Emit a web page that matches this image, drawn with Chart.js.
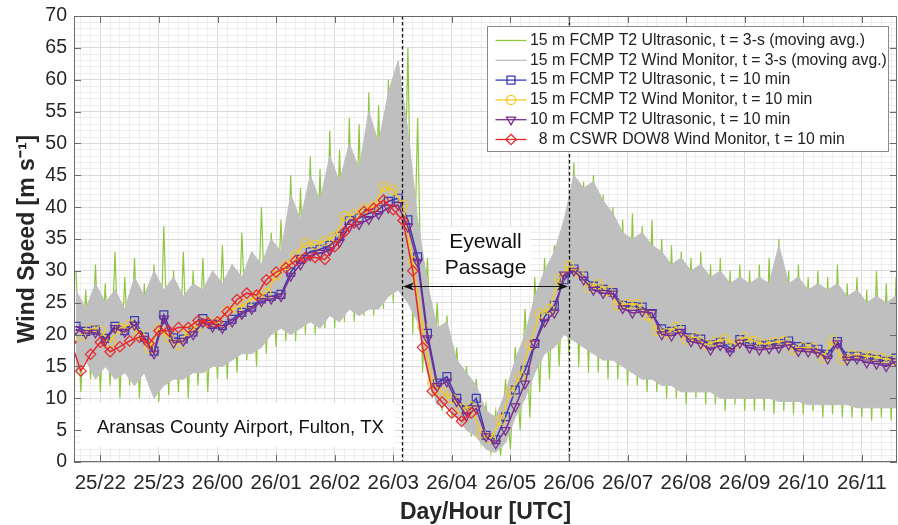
<!doctype html>
<html>

<head>
  <meta charset="utf-8">
  <title>Wind Speed - Aransas County Airport</title>
  <style>
    html, body { margin: 0; padding: 0; background: #fff; }
    .chartBox { width: 898px; height: 525px; }
  </style>
</head>

<body>
  <div class="chartBox">
    <canvas id="myChart" width="898" height="525"></canvas>
  </div>

  <script src="https://cdn.jsdelivr.net/npm/chart.js"></script>
  <script>
    // x values are hours counted from 25/00 UTC
    const xMin = 21.55;
    const xMax = 35.6;
    const eyewallStart = 27.15;   // 26/03:09
    const eyewallEnd = 30.0;      // 26/06:00
    const arrowLevel = 27.6;
    const labelLevel = 32.5;

    // first time stamp of each 10-min series
    const startUltra = 21 + 35 / 60;   // 25/21:35
    const startMonitor = 21 + 40 / 60; // 25/21:40
    const startDow8 = 21 + 30 / 60;    // 25/21:30

    // 3-s moving average, envelope of the trace per 10 min
    const greenHi = [30, 27, 31, 28, 33, 29, 32, 28, 31, 37, 30, 33, 30, 32, 29, 34, 31, 36, 33, 40, 36, 38,
      45, 43, 48, 46, 52, 49, 54, 53, 58, 56, 60, 61, 65,
      54, 32, 25, 23, 18, 15, 13, 9, 8, 13, 18, 24, 29, 32, 34, 36,
      47, 44, 45, 42, 40, 38, 39, 37, 38, 35, 34, 33, 32, 33, 31, 32, 30, 31, 30, 31,
      32, 35, 30, 31, 29, 30, 29, 31, 28, 29, 27, 30, 28, 29];
    const greenLo = [11, 13, 11, 12, 10, 12, 10, 12, 9.5, 10.5, 11, 10, 12, 11, 13, 13, 14, 16, 15, 17, 18, 19,
      19, 20, 20, 21, 21, 22, 22, 23, 23, 24, 25, 26, 20,
      14, 10, 8, 7, 6, 4, 3, 1.5, 1, 2, 5, 7, 11, 13, 15, 17,
      15, 14, 14, 13, 13, 12, 12, 11, 11, 10, 10, 9, 10, 9, 9, 8, 9, 8, 8, 8,
      7.5, 8, 7.5, 7.5, 8, 7, 7.5, 7, 7, 7, 6.5, 7, 6.5, 6.5];
    const grayHi = [27, 24, 28, 25, 27, 24, 29, 26, 30, 27, 29, 26, 28, 27, 30, 28, 31, 29, 33, 31,
      35, 33, 42, 38, 45, 41, 48, 44, 50, 46, 55, 50, 58, 63, 52, 38, 28, 21, 22, 16,
      14, 12, 8, 7, 11, 16, 20, 26, 30, 33, 38,
      45, 43, 44, 41, 39, 36, 35, 36, 34, 33, 31, 32, 30, 31, 29, 30, 28, 29, 28,
      29, 28, 34, 28, 29, 27, 28, 27, 28, 26, 27, 25, 26, 25, 26];
    const grayLo = [14, 16, 13, 15, 13, 14, 12, 14, 10, 12, 13, 13, 14, 14, 15, 15, 16, 17, 17, 18,
      20, 21, 20, 21, 22, 21, 23, 22, 24, 23, 24, 24, 26, 27, 25, 22, 14, 9, 9, 7,
      5, 4, 2, 1.5, 3, 7, 10, 14, 17, 18, 20,
      19, 18, 17, 16, 16, 15, 14, 13, 13, 12, 12, 11, 11, 11, 11, 10, 10, 10, 10, 10,
      10, 9.5, 9.5, 9.5, 9, 9, 9, 9, 9, 8.5, 8.5, 8.5, 8.5, 8.5];

    // 10-min means
    const ultra15 = [21.3, 20.5, 20.7, 19.4, 21.3, 20.6, 22.2, 19.6, 17.4, 23.1,
      19.5, 19.3, 20.4, 22.5, 21.6, 21.4, 22.4, 23.5, 24.3, 25.6,
      26.0, 26.3, 29.8, 31.8, 33.0, 33.4, 34.0, 35.4, 37.9, 38.3,
      39.0, 39.6, 40.9, 41.4, 38.0, 32.2, 20.2, 12.4, 13.4, 10.0,
      8.2, 10.0, 4.2, 3.5, 7.1, 11.3, 14.4, 18.6, 22.8, 24.6,
      28.6, 30.3, 29.2, 27.6, 27.1, 26.6, 24.6, 24.4, 24.3, 23.3,
      20.9, 20.5, 20.8, 19.5, 19.3, 18.4, 18.8, 17.9, 19.2, 18.6,
      18.3, 18.4, 18.6, 19.0, 18.1, 18.0, 17.7, 16.9, 18.9, 16.6,
      16.6, 16.3, 16.1, 15.8, 16.3];
    const monitor15 = [19.9, 20.9, 20.6, 18.8, 21.0, 21.6, 20.1, 17.8, 20.9, 19.5,
      18.4, 20.6, 21.3, 22.0, 21.8, 23.7, 24.2, 25.0, 26.1, 26.5,
      29.3, 30.9, 32.5, 34.4, 34.1, 34.7, 35.4, 38.6, 38.9, 39.8,
      40.1, 43.2, 42.7, 40.3, 31.5, 21.2, 12.4, 11.0, 10.0, 8.4,
      8.7, 4.5, 3.7, 6.6, 11.0, 13.4, 18.4, 23.3, 24.0, 28.8,
      30.8, 29.6, 27.4, 27.9, 26.8, 24.6, 24.8, 24.8, 23.0, 20.6,
      20.2, 21.2, 19.2, 19.6, 18.4, 18.9, 19.3, 18.5, 19.6, 19.0,
      18.5, 18.8, 19.0, 17.6, 18.0, 17.9, 16.3, 19.1, 16.1, 16.8,
      16.7, 16.6, 16.3, 16.0];
    const ultra10 = [20.8, 20.2, 20.3, 19.1, 21.0, 20.4, 21.5, 19.3, 17.0, 22.5,
      18.7, 19.0, 20.0, 21.9, 21.2, 21.0, 22.0, 23.2, 24.0, 25.2,
      25.6, 26.0, 29.2, 31.0, 32.4, 32.8, 33.2, 34.5, 36.9, 37.3,
      38.1, 38.9, 39.9, 40.3, 36.9, 31.4, 19.4, 11.9, 12.6, 9.5,
      7.3, 8.4, 4.0, 2.9, 5.0, 8.7, 12.3, 18.6, 22.0, 23.4,
      29.4, 30.0, 28.6, 27.0, 26.5, 26.4, 24.1, 23.4, 23.6, 23.4,
      20.0, 19.8, 20.4, 18.9, 18.6, 17.6, 18.3, 17.4, 18.7, 17.9,
      17.6, 17.8, 17.9, 18.4, 17.4, 17.3, 17.2, 16.2, 18.6, 16.0,
      16.2, 15.6, 15.4, 15.0, 15.8];
    const dow8 = [18.8, 14.3, 16.9, 18.8, 17.3, 18.1, 19.0, 19.6, 18.6, 20.6, 20.6,
      21.1, 21.1, 22.2, 21.9, 22.0, 23.6, 25.5, 26.5, 26.2, 28.6,
      29.8, 30.5, 31.6, 32.1, 32.1, 31.8, 33.8, 36.1, 37.5, 39.3,
      39.8, 41.1, 39.6, 37.9, 30.0, 18.0, 11.1, 9.4, 7.7, 6.4, 7.7];

    const toPoints = (start, vals) => vals.map((v, i) => ({ x: start + i / 6, y: v }));
    const toTrace = (start, hi, lo) => hi.flatMap((v, i) => [
      { x: start + i / 6, y: v },
      { x: start + i / 6 + 1 / 12, y: lo[i] }
    ]);

    const isHour = (v) => Math.round(v * 6) % 6 === 0;
    const hourLabel = (v) => {
      const h = Math.round(v);
      return (h < 24 ? '25/' : '26/') + String(h % 24).padStart(2, '0');
    };

    const green = '#8dc73f';
    const gray = '#bfbfbf';
    const blue = '#3a3ab2';
    const yellow = '#f2cb22';
    const purple = '#7b2d8e';
    const red = '#e8272b';
    const hollow = 'rgba(0,0,0,0)';

    function marker(ctx, style, x, y, r) {
      ctx.beginPath();
      if (style === 'rect') {
        const s = r * Math.SQRT1_2;
        ctx.rect(x - s, y - s, 2 * s, 2 * s);
      } else if (style === 'circle') {
        ctx.arc(x, y, r, 0, Math.PI * 2);
      } else if (style === 'triangle') {
        ctx.moveTo(x, y + r);
        ctx.lineTo(x - r * 0.866, y - r / 2);
        ctx.lineTo(x + r * 0.866, y - r / 2);
        ctx.closePath();
      } else if (style === 'rectRot') {
        ctx.moveTo(x, y - r);
        ctx.lineTo(x + r, y);
        ctx.lineTo(x, y + r);
        ctx.lineTo(x - r, y);
        ctx.closePath();
      }
      ctx.stroke();
    }

    function arrowHead(ctx, x, y, dir) {
      ctx.beginPath();
      ctx.moveTo(x, y);
      ctx.lineTo(x - dir * 11, y - 4);
      ctx.lineTo(x - dir * 8, y);
      ctx.lineTo(x - dir * 11, y + 4);
      ctx.closePath();
      ctx.fill();
    }

    // the layout keeps a few px on the right for the last tick label; give them back to the plot
    const stretch = {
      id: 'stretch',
      afterLayout(chart) {
        const a = chart.chartArea;
        const x = chart.scales.x;
        const right = chart.width - 1;
        a.right = right;
        a.width = right - a.left;
        x.right = right;
        x.width = right - x.left;
        x.configure();
      }
    };

    const overlay = {
      id: 'overlay',
      afterDraw(chart) {
        const { ctx, chartArea: a, scales: { x, y } } = chart;
        ctx.save();

        // eyewall limits
        ctx.strokeStyle = '#111';
        ctx.lineWidth = 1.3;
        ctx.setLineDash([3.5, 2.5]);
        [eyewallStart, eyewallEnd].forEach((v) => {
          const px = Math.round(x.getPixelForValue(v)) + 0.5;
          ctx.beginPath();
          ctx.moveTo(px, a.top);
          ctx.lineTo(px, a.bottom);
          ctx.stroke();
        });
        ctx.setLineDash([]);

        // double arrow
        const x1 = x.getPixelForValue(eyewallStart) + 1;
        const x2 = x.getPixelForValue(eyewallEnd) - 1;
        const ay = Math.round(y.getPixelForValue(arrowLevel)) + 0.5;
        ctx.lineWidth = 1.2;
        ctx.fillStyle = '#111';
        ctx.beginPath();
        ctx.moveTo(x1 + 6, ay);
        ctx.lineTo(x2 - 6, ay);
        ctx.stroke();
        arrowHead(ctx, x1, ay, -1);
        arrowHead(ctx, x2, ay, 1);

        // eyewall label
        ctx.font = '21px "Liberation Sans", Arial, sans-serif';
        ctx.textAlign = 'center';
        ctx.textBaseline = 'middle';
        const lx = (x1 + x2) / 2;
        const ly = y.getPixelForValue(labelLevel);
        const lw = Math.max(ctx.measureText('Eyewall').width, ctx.measureText('Passage').width);
        ctx.fillStyle = '#fff';
        ctx.fillRect(lx - lw / 2 - 4, ly - 28, lw + 8, 56);
        ctx.fillStyle = '#111';
        ctx.fillText('Eyewall', lx, ly - 13);
        ctx.fillText('Passage', lx, ly + 13);

        // site label
        ctx.font = '18.5px "Liberation Sans", Arial, sans-serif';
        ctx.textAlign = 'left';
        ctx.textBaseline = 'alphabetic';
        const site = 'Aransas County Airport, Fulton, TX';
        const sw = ctx.measureText(site).width;
        ctx.fillStyle = '#fff';
        ctx.fillRect(a.left + 6, a.bottom - 59, sw + 28, 44);
        ctx.fillStyle = '#111';
        ctx.fillText(site, a.left + 23, a.bottom - 29);

        // axes box and inward ticks
        ctx.strokeStyle = '#6a6a6a';
        ctx.lineWidth = 1;
        ctx.strokeRect(a.left + 0.5, a.top + 0.5, a.width - 1, a.height - 1);
        ctx.beginPath();
        for (let h = Math.ceil(xMin); h <= Math.floor(xMax); h++) {
          const px = Math.round(x.getPixelForValue(h)) + 0.5;
          ctx.moveTo(px, a.bottom); ctx.lineTo(px, a.bottom - 7);
          ctx.moveTo(px, a.top); ctx.lineTo(px, a.top + 7);
        }
        for (let v = 0; v <= 70; v += 5) {
          const py = Math.round(y.getPixelForValue(v)) + 0.5;
          ctx.moveTo(a.left, py); ctx.lineTo(a.left + 7, py);
          ctx.moveTo(a.right, py); ctx.lineTo(a.right - 7, py);
        }
        ctx.stroke();

        // legend
        const items = chart.data.datasets.filter((d) => d.inLegend);
        const bx = a.right - 409.5;
        const by = a.top + 10.5;
        const bw = 401;
        const bh = 125;
        ctx.fillStyle = '#fff';
        ctx.fillRect(bx, by, bw, bh);
        ctx.strokeStyle = '#8a8a8a';
        ctx.strokeRect(bx, by, bw, bh);
        ctx.font = '15.8px "Liberation Sans", Arial, sans-serif';
        ctx.textBaseline = 'middle';
        items.forEach((d, k) => {
          const ry = by + 14 + k * 19.8;
          ctx.strokeStyle = d.borderColor;
          ctx.lineWidth = 1.3;
          ctx.beginPath();
          ctx.moveTo(bx + 8, ry);
          ctx.lineTo(bx + 39, ry);
          ctx.stroke();
          if (d.pointRadius > 0) marker(ctx, d.pointStyle, bx + 23.5, ry, d.pointRadius);
          ctx.fillStyle = '#222';
          ctx.fillText(d.label, bx + 42.5, ry);
        });

        ctx.restore();
      }
    };

    Chart.defaults.font.family = '"Liberation Sans", Arial, sans-serif';
    Chart.defaults.color = '#262626';

    const lineStyle = { tension: 0, borderWidth: 1.5, pointBorderWidth: 1.2, pointBackgroundColor: hollow };

    const data = {
      datasets: [
        {
          label: '15 m FCMP T2 Ultrasonic, t = 3-s (moving avg.)', inLegend: true,
          data: toTrace(startUltra, greenHi, greenLo),
          borderColor: green, borderWidth: 1.2, pointRadius: 0, order: 6
        },
        {
          label: 'gray lower edge', data: toPoints(startUltra, grayLo),
          borderColor: gray, borderWidth: 1, pointRadius: 0, fill: false, order: 5
        },
        {
          label: '15 m FCMP T2 Wind Monitor, t = 3-s (moving avg.)', inLegend: true,
          data: toPoints(startUltra, grayHi),
          borderColor: gray, backgroundColor: gray, borderWidth: 1, pointRadius: 0, fill: '-1', order: 5
        },
        {
          ...lineStyle, label: '15 m FCMP T2 Ultrasonic, t = 10 min', inLegend: true,
          data: toPoints(startUltra, ultra15),
          borderColor: blue, pointBorderColor: blue, pointStyle: 'rect', pointRadius: 5.6, order: 4
        },
        {
          ...lineStyle, label: '15 m FCMP T2 Wind Monitor, t = 10 min', inLegend: true,
          data: toPoints(startMonitor, monitor15),
          borderColor: yellow, pointBorderColor: yellow, pointStyle: 'circle', pointRadius: 4.6, order: 3
        },
        {
          ...lineStyle, label: '10 m FCMP T2 Ultrasonic, t = 10 min', inLegend: true,
          data: toPoints(startUltra, ultra10),
          borderColor: purple, pointBorderColor: purple, pointStyle: 'triangle', pointRotation: 180,
          pointRadius: 5.2, order: 2
        },
        {
          ...lineStyle, label: '  8 m CSWR DOW8 Wind Monitor, t = 10 min', inLegend: true,
          data: toPoints(startDow8, dow8),
          borderColor: red, pointBorderColor: red, pointStyle: 'rectRot', pointRadius: 5.2, order: 1
        }
      ]
    };

    const config = {
      type: 'line',
      data,
      options: {
        responsive: false,
        animation: false,
        layout: { padding: { top: 16, right: 1, left: 0, bottom: 0 } },
        plugins: {
          legend: { display: false },
          tooltip: { enabled: false }
        },
        scales: {
          x: {
            type: 'linear',
            min: xMin,
            max: xMax,
            afterBuildTicks: (s) => {
              const ticks = [];
              for (let k = Math.ceil(xMin * 6); k <= Math.floor(xMax * 6); k++) ticks.push({ value: k / 6 });
              s.ticks = ticks;
            },
            afterFit: (s) => {
              s.height = 63;
              s.paddingLeft = 0;
              s.paddingRight = 0;
            },
            border: { display: false },
            grid: {
              drawTicks: false,
              color: (c) => isHour(c.tick.value) ? '#d9d9d9' : '#ededed'
            },
            ticks: {
              autoSkip: false,
              maxRotation: 0,
              padding: 9,
              font: { size: 20.5 },
              callback: (v) => isHour(v) ? hourLabel(v) : ''
            },
            title: {
              display: true,
              text: 'Day/Hour [UTC]',
              font: { size: 23, weight: 'bold', lineHeight: 1 },
              padding: { top: 0, bottom: 1 }
            }
          },
          y: {
            min: 0,
            max: 70,
            afterFit: (s) => {
              s.width = 74;
              s.paddingTop = 0;
              s.paddingBottom = 0;
            },
            border: { display: false },
            grid: {
              drawTicks: false,
              color: (c) => c.tick.value % 5 === 0 ? '#d9d9d9' : '#ededed'
            },
            ticks: {
              stepSize: 1,
              autoSkip: false,
              padding: 7,
              font: { size: 19.5 },
              callback: (v) => v % 5 === 0 ? v : ''
            },
            title: {
              display: true,
              text: 'Wind Speed [m s\u207B\u00B9]',
              font: { size: 23, weight: 'bold', lineHeight: 1 },
              padding: { top: 16, bottom: 0 }
            }
          }
        }
      },
      plugins: [stretch, overlay]
    };

    const myChart = new Chart(document.getElementById('myChart'), config);
  </script>
</body>

</html>
